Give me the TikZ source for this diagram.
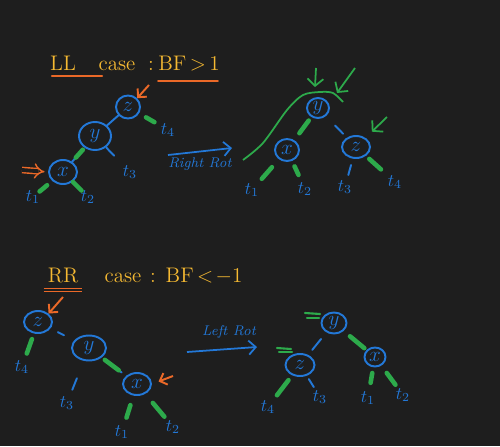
\documentclass[tikz,border=0pt]{standalone}
\usetikzlibrary{positioning}
\usetikzlibrary{calc}
\usetikzlibrary{arrows.meta}
\usetikzlibrary{shapes.geometric}
\definecolor{board}{RGB}{30,30,30}
\definecolor{pen}{RGB}{35,120,215}
\definecolor{hl}{RGB}{45,170,75}
\definecolor{warn}{RGB}{235,105,40}
\definecolor{chalk}{RGB}{245,185,50}

\begin{document}
\begin{tikzpicture}[x=0.02cm, y=-0.02cm, every node/.style={font=\normalsize},
    key/.style={draw=pen, ellipse, line width=1.1pt, text=pen, inner sep=0pt, font=\large},
    sub/.style={text=pen, inner sep=1pt},
    ttl/.style={text=chalk, font=\large, inner sep=1pt, anchor=base},
    link/.style={pen, line width=1.1pt, line cap=round},
    hlt/.style={hl, line width=2.6pt, line cap=round},
    warnarrow/.style={warn, line width=1.1pt, -{Straight Barb[length=3.5pt, width=7pt]}},
    hlarrow/.style={hl, line width=1pt, -{Straight Barb[length=4pt, width=9pt]}},
    rot/.style={pen, line width=1pt, -{Straight Barb[length=4pt, width=8pt]}},
    rotlbl/.style={text=pen, font=\footnotesize\itshape, inner sep=1pt}]

    \fill[board] (0,0) rectangle (500,446);

    % LL case
    \node[ttl] (ll) at (63,71) {LL};
    \node[ttl] (llcs) at (117,71) {case};
    \node[ttl] (llcol) at (151,71) {:};
    \node[ttl] (bfa) at (189,71) {BF$\,>\,$1};
    \draw[warn, line width=1.2pt, line cap=round] ($(ll.south west)+(4,3)$) -- ($(ll.south east)+(24,3)$);
    \draw[warn, line width=1.2pt, line cap=round] ($(bfa.south west)+(2,7)$) -- ($(bfa.south east)+(-4,7)$);

    \node[key, minimum width=0.48cm, minimum height=0.46cm] (z1) at (128,107) {$z$};
    \node[key, minimum width=0.64cm, minimum height=0.56cm] (y1) at (95,136) {$y$};
    \node[key, minimum width=0.56cm, minimum height=0.48cm] (x1) at (63,172) {$x$};
    \node[sub] (t4a) at (168,130) {$t_4$};
    \node[sub] (t3a) at (130,172) {$t_3$};
    \node[sub] (t1a) at (33,197) {$t_1$};
    \node[sub] (t2a) at (88,197) {$t_2$};

    \draw[link] (z1) -- (y1);
    \draw[hlt] ($(z1)!0.45!(t4a)$) -- ($(z1)!0.66!(t4a)$);
    \draw[link] ($(y1)!0.45!(x1)$) -- ($(y1)!0.72!(x1)$);
    \draw[hlt] ($(y1)!0.38!(x1)$) -- ($(y1)!0.6!(x1)$);
    \draw[link] ($(y1)!0.32!(t3a)$) -- ($(y1)!0.55!(t3a)$);
    \draw[hlt] ($(x1)!0.53!(t1a)$) -- ($(x1)!0.78!(t1a)$);
    \draw[hlt] ($(x1)!0.4!(t2a)$) -- ($(x1)!0.74!(t2a)$);

    \coordinate (oa1) at (149,85);
    \draw[warnarrow] (oa1) -- (z1.north east);
    \coordinate (oa2) at (22,170);
    \draw[warn, line width=0.8pt, double=board, double distance=2.2pt, -{Implies}, shorten >=2pt] (oa2) -- (x1.west);

    \coordinate (rra) at (168,155);
    \coordinate (rrb) at (232,148);
    \draw[rot] (rra) -- node[rotlbl, below=2pt] {Right Rot} (rrb);

    \node[key, minimum width=0.44cm, minimum height=0.40cm] (y2) at (318,108) {$y$};
    \node[key, minimum width=0.48cm, minimum height=0.44cm] (x2) at (287,150) {$x$};
    \node[key, minimum width=0.56cm, minimum height=0.44cm] (z2) at (356,147) {$z$};
    \node[sub] (t1b) at (252,190) {$t_1$};
    \node[sub] (t2b) at (305,189) {$t_2$};
    \node[sub] (t3b) at (345,187) {$t_3$};
    \node[sub] (t4b) at (395,182) {$t_4$};

    \draw[hlt] ($(y2)!0.3!(x2)$) -- ($(y2)!0.6!(x2)$);
    \draw[link] ($(y2)!0.45!(z2)$) -- ($(y2)!0.66!(z2)$);
    \draw[hlt] ($(x2)!0.43!(t1b)$) -- ($(x2)!0.72!(t1b)$);
    \draw[hlt] ($(x2)!0.42!(t2b)$) -- ($(x2)!0.64!(t2b)$);
    \draw[link] ($(z2)!0.45!(t3b)$) -- ($(z2)!0.7!(t3b)$);
    \draw[hlt] ($(z2)!0.34!(t4b)$) -- ($(z2)!0.64!(t4b)$);

    \draw[hl, line width=1pt] plot[smooth] coordinates {(243,160) (263,143) (287,110) (303,95) (320,92) (333,93) (343,102)};
    \coordinate (ga1) at (316,68);
    \coordinate (gt1) at ($(y2)+(-3,-21)$);
    \draw[hlarrow] (ga1) -- (gt1);
    \coordinate (ga2) at (355,68);
    \coordinate (gt2) at ($(y2)+(19,-15)$);
    \draw[hlarrow] (ga2) -- (gt2);
    \coordinate (ga3) at (387,117);
    \draw[hlarrow, shorten >=5pt] (ga3) -- (z2);

    % RR case
    \node[ttl] (rr) at (63,282) {RR};
    \node[ttl] (rrcs) at (123,282) {case};
    \node[ttl] (rrcol) at (153,282) {:};
    \node[ttl] (bfb) at (204,282) {BF$\,<\!-1$};
    \draw[warn, line width=1pt] ($(rr.south west)+(-2,4)$) -- ($(rr.south east)+(2,4)$);
    \draw[warn, line width=1pt] ($(rr.south west)+(-2,7)$) -- ($(rr.south east)+(2,7)$);

    \node[key, minimum width=0.56cm, minimum height=0.44cm] (z3) at (38,322) {$z$};
    \node[key, minimum width=0.68cm, minimum height=0.5cm] (y3) at (89,348) {$y$};
    \node[key, minimum width=0.56cm, minimum height=0.44cm] (x3) at (137,384) {$x$};
    \node[sub] (t4c) at (22,367) {$t_4$};
    \node[sub] (t3c) at (67,403) {$t_3$};
    \node[sub] (t1c) at (122,432) {$t_1$};
    \node[sub] (t2c) at (173,427) {$t_2$};

    \draw[link] ($(z3)!0.39!(y3)$) -- ($(z3)!0.51!(y3)$);
    \draw[link] ($(y3)!0.38!(x3)$) -- ($(y3)!0.68!(x3)$);
    \draw[hlt] ($(y3)!0.33!(x3)$) -- ($(y3)!0.62!(x3)$);
    \draw[hlt] ($(z3)!0.38!(t4c)$) -- ($(z3)!0.7!(t4c)$);
    \draw[link] ($(y3)!0.55!(t3c)$) -- ($(y3)!0.76!(t3c)$);
    \draw[hlt] ($(x3)!0.44!(t1c)$) -- ($(x3)!0.7!(t1c)$);
    \draw[hlt] ($(x3)!0.44!(t2c)$) -- ($(x3)!0.76!(t2c)$);

    \coordinate (oa3) at (63,297);
    \draw[warnarrow] (oa3) -- (z3.north east);
    \coordinate (oa4) at (173,376);
    \draw[warnarrow, shorten >=4pt] (oa4) -- (x3.east);

    \coordinate (lra) at (187,352);
    \coordinate (lrb) at (257,347);
    \draw[rot] (lra) -- node[rotlbl, above=5pt, xshift=4pt] {Left Rot} (lrb);

    \node[key, minimum width=0.5cm, minimum height=0.42cm] (y4) at (334,323) {$y$};
    \node[key, minimum width=0.58cm, minimum height=0.44cm] (z4) at (300,365) {$z$};
    \node[key, minimum width=0.42cm, minimum height=0.38cm] (x4) at (375,357) {$x$};
    \node[sub] (t4d) at (268,407) {$t_4$};
    \node[sub] (t3d) at (320,397) {$t_3$};
    \node[sub] (t1d) at (368,398) {$t_1$};
    \node[sub] (t2d) at (403,395) {$t_2$};

    \draw[link] ($(y4)!0.38!(z4)$) -- ($(y4)!0.64!(z4)$);
    \draw[hlt] ($(y4)!0.39!(x4)$) -- ($(y4)!0.74!(x4)$);
    \draw[hlt] ($(z4)!0.36!(t4d)$) -- ($(z4)!0.72!(t4d)$);
    \draw[link] ($(z4)!0.44!(t3d)$) -- ($(z4)!0.69!(t3d)$);
    \draw[hlt] ($(x4)!0.39!(t1d)$) -- ($(x4)!0.63!(t1d)$);
    \draw[hlt] ($(x4)!0.42!(t2d)$) -- ($(x4)!0.73!(t2d)$);

    \draw[hl, line width=1.2pt, line cap=round] ($(y4)+(-29,-10)$) -- ($(y4)+(-14,-9)$);
    \draw[hl, line width=1.2pt, line cap=round] ($(y4)+(-27,-5)$) -- ($(y4)+(-15,-5)$);
    \draw[hl, line width=1.2pt, line cap=round] ($(z4)+(-23,-17)$) -- ($(z4)+(-9,-16)$);
    \draw[hl, line width=1.2pt, line cap=round] ($(z4)+(-21,-13)$) -- ($(z4)+(-8,-13)$);
\end{tikzpicture}
\end{document}
